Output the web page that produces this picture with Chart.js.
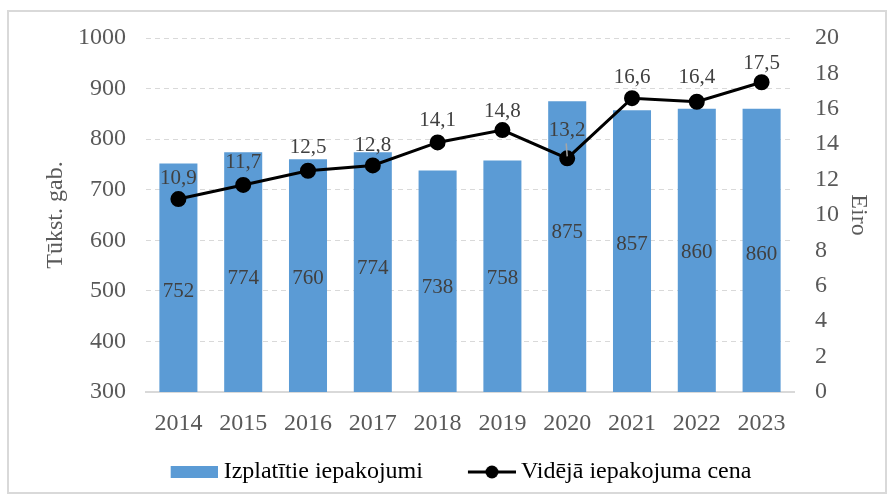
<!DOCTYPE html>
<html>
<head>
<meta charset="utf-8">
<script src="https://cdn.jsdelivr.net/npm/chart.js@4.4.1/dist/chart.umd.min.js"></script>
<style>
html, body { margin: 0; padding: 0; background: #fff; }
</style>
</head>
<body>
<canvas id="chart" width="894" height="501"></canvas>
<script>
const years = ['2014', '2015', '2016', '2017', '2018', '2019', '2020', '2021', '2022', '2023'];
const packages = [752, 774, 760, 774, 738, 758, 875, 857, 860, 860];
const prices = [10.9, 11.7, 12.5, 12.8, 14.1, 14.8, 13.2, 16.6, 16.4, 17.5];
// where the value labels sit (left axis units / pixels above the point)
const packageLabelAt = [498, 525, 525, 545, 506, 525, 616, 591, 575, 571];
const priceLabelLift = [21, 22, 23, 20, 22, 19, 28, 21, 24, 19];

const FONT = '"Liberation Serif", "Times New Roman", serif';
const BLUE = '#5b9bd5';
const GREY = '#595959';
const SIZE = 24;

//Legend icons (drawn right-aligned inside the canvas so they sit close to the text)
const barIcon = document.createElement('canvas');
barIcon.width = 72; barIcon.height = 12;
let c = barIcon.getContext('2d');
c.fillStyle = BLUE;
c.fillRect(25, 0, 47, 12);

const lineIcon = document.createElement('canvas');
lineIcon.width = 74; lineIcon.height = 14;
c = lineIcon.getContext('2d');
c.strokeStyle = '#000'; c.lineWidth = 3;
c.beginPath(); c.moveTo(26, 7); c.lineTo(74, 7); c.stroke();
c.fillStyle = '#000';
c.beginPath(); c.arc(50, 7, 6.5, 0, Math.PI * 2); c.fill();

const frame = {
    id: 'frame',
    beforeDraw(chart) {
        const ctx = chart.ctx;
        ctx.save();
        ctx.strokeStyle = '#d9d9d9';
        ctx.lineWidth = 2;
        ctx.strokeRect(8, 11, 878, 482);
        ctx.restore();
    }
};

const valueLabels = {
    id: 'valueLabels',
    afterDatasetsDraw(chart) {
        const ctx = chart.ctx;
        const y = chart.scales.y;
        ctx.save();
        ctx.font = '21px ' + FONT;
        ctx.fillStyle = '#404040';
        ctx.textAlign = 'center';
        ctx.textBaseline = 'middle';
        chart.getDatasetMeta(0).data.forEach((bar, i) => {
            ctx.fillText(String(packages[i]), bar.x, y.getPixelForValue(packageLabelAt[i]));
        });
        chart.getDatasetMeta(1).data.forEach((pt, i) => {
            const ly = pt.y - priceLabelLift[i];
            if (priceLabelLift[i] > 25) {
                ctx.strokeStyle = '#a6a6a6';
                ctx.lineWidth = 1.5;
                ctx.beginPath();
                ctx.moveTo(pt.x - 1, ly + 13);
                ctx.lineTo(pt.x, pt.y - 2);
                ctx.stroke();
            }
            ctx.fillText(prices[i].toFixed(1).replace('.', ','), pt.x, ly);
        });
        ctx.restore();
    }
};

const tickFont = { family: FONT, size: SIZE };

const chart = new Chart(document.getElementById('chart'), {
    type: 'bar',
    data: {
        labels: years,
        datasets: [
            {
                label: 'Izplatītie iepakojumi',
                data: packages,
                backgroundColor: BLUE,
                yAxisID: 'y',
                order: 1,
                barPercentage: 0.587,
                categoryPercentage: 1
            },
            {
                type: 'line',
                label: 'Vidējā iepakojuma cena',
                data: prices,
                borderColor: '#000',
                backgroundColor: '#000',
                borderWidth: 3,
                pointRadius: 6.5,
                pointHoverRadius: 6.5,
                yAxisID: 'y1',
                order: 0
            }
        ]
    },
    options: {
        responsive: false,
        animation: false,
        layout: { padding: { left: 9, right: 0, top: 38, bottom: 7 } },
        plugins: {
            tooltip: { enabled: false },
            legend: {
                position: 'bottom',
                labels: {
                    usePointStyle: true,
                    pointStyleWidth: 60,
                    padding: 26,
                    color: GREY,
                    font: tickFont,
                    generateLabels: (ch) => [
                        { text: ch.data.datasets[0].label, pointStyle: barIcon, fillStyle: BLUE, strokeStyle: BLUE, lineWidth: 0, hidden: false, datasetIndex: 0 },
                        { text: ch.data.datasets[1].label, pointStyle: lineIcon, fillStyle: '#000', strokeStyle: '#000', lineWidth: 0, hidden: false, datasetIndex: 1 }
                    ]
                }
            }
        },
        scales: {
            x: {
                grid: { display: false, drawTicks: false },
                border: { display: true, color: '#d9d9d9', width: 2 },
                ticks: { color: GREY, padding: 17, font: tickFont },
                afterFit: (s) => { s.height = 42; }
            },
            y: {
                position: 'left',
                min: 300,
                max: 1000,
                grid: { color: '#d9d9d9', lineWidth: 1, drawTicks: false },
                border: { display: false, dash: [5, 4] },
                ticks: { stepSize: 100, autoSkip: false, color: GREY, padding: 20, font: tickFont, callback: (v) => String(v) },
                title: { display: true, text: 'Tūkst. gab.', color: GREY, padding: { top: 32, bottom: 0 }, font: tickFont },
                afterFit: (s) => { s.width = 137; }
            },
            y1: {
                position: 'right',
                min: 0,
                max: 20,
                grid: { drawOnChartArea: false, drawTicks: false },
                border: { display: false },
                ticks: { stepSize: 2, autoSkip: false, color: GREY, padding: 21, font: tickFont, callback: (v) => String(v) },
                title: { display: true, text: 'Eiro', color: GREY, padding: { top: 21, bottom: 0 }, font: tickFont },
                afterFit: (s) => { s.width = 100; }
            }
        }
    },
    plugins: [frame, valueLabels]
});
</script>
</body>
</html>
